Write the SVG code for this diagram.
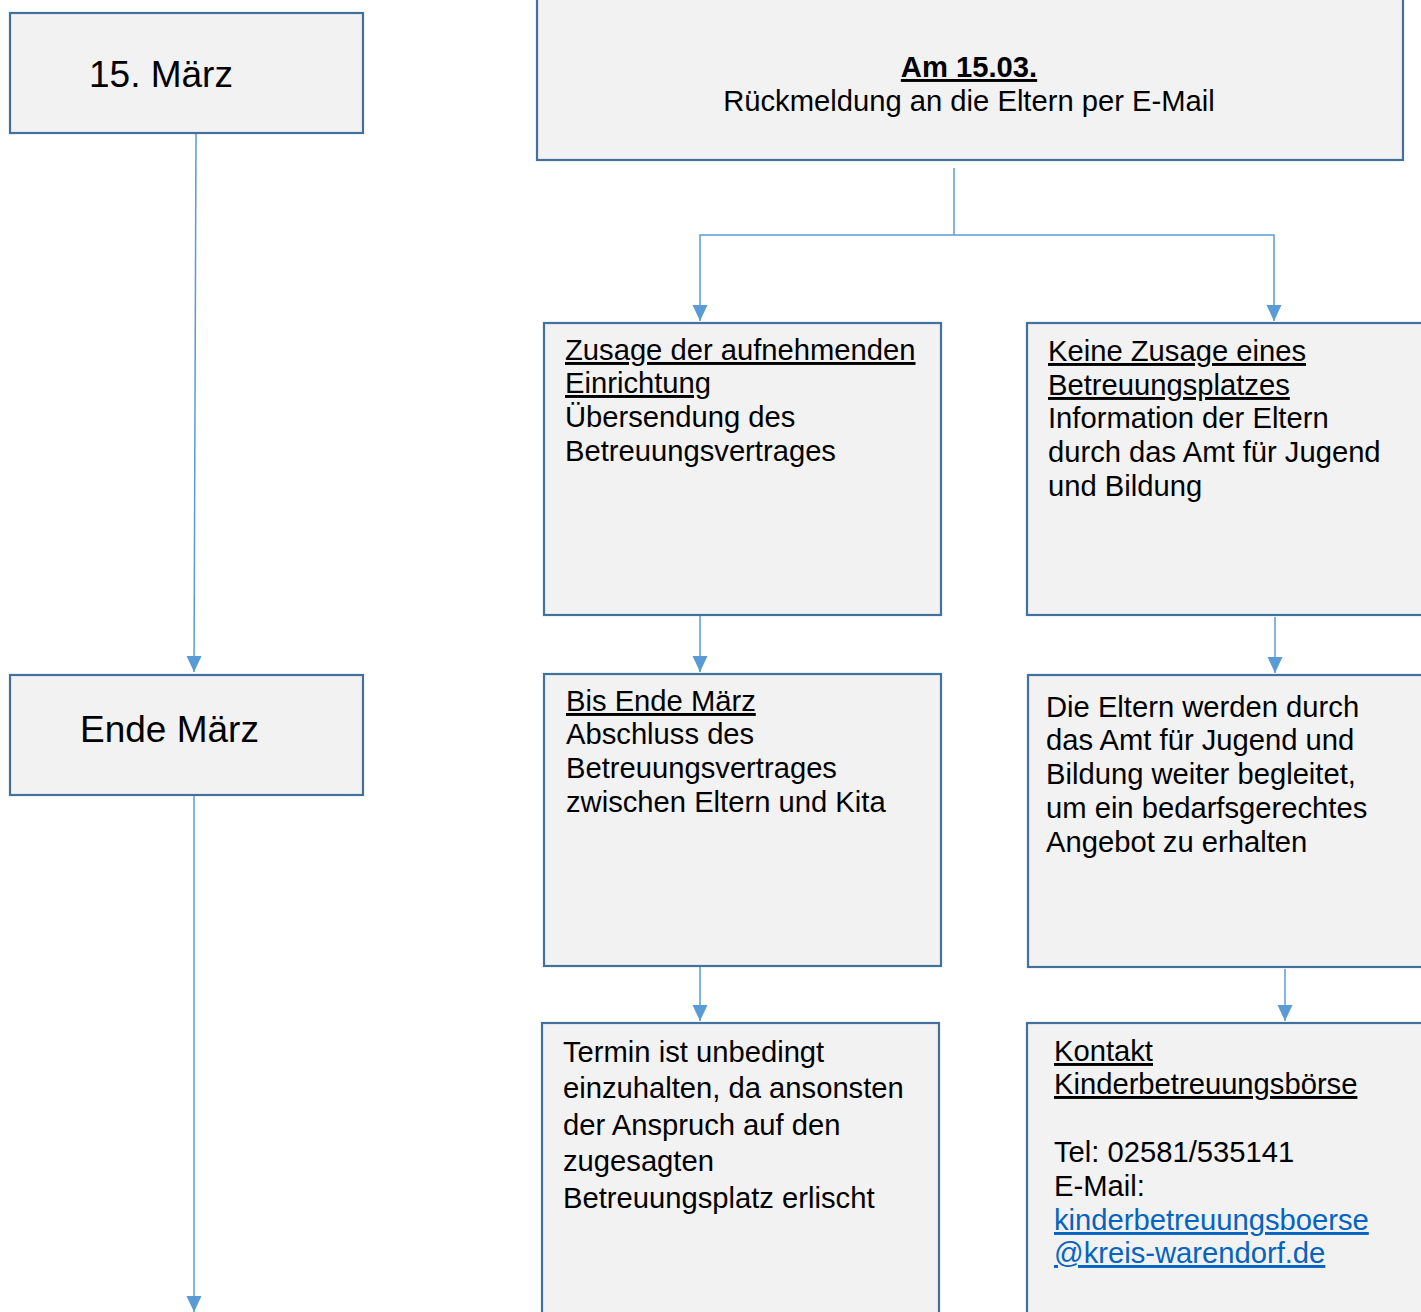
<svg xmlns="http://www.w3.org/2000/svg" width="1421" height="1312" viewBox="0 0 1421 1312">
<style>
.box{fill:#F2F2F2;stroke:#41719C;stroke-width:2.2}
.t{font-family:"Liberation Sans",Arial,sans-serif;font-size:29.2px;fill:#000}
.big{font-family:"Liberation Sans",Arial,sans-serif;font-size:37px;fill:#000}
.u{text-decoration:underline}
.link{fill:#0563C1;text-decoration:underline}
.c{fill:none;stroke:#5B9BD5;stroke-width:1.5}
</style>
<defs>
<marker id="ah" markerUnits="userSpaceOnUse" markerWidth="17" markerHeight="17" viewBox="0 0 17 17" refX="16" refY="8.5" orient="auto">
<path d="M0,1 L16,8.5 L0,16 Z" fill="#5B9BD5"/>
</marker>
</defs>
<g id="connectors">
<path class="c" d="M196,134 L194,672" marker-end="url(#ah)"/>
<path class="c" d="M194,796 L194,1312" marker-end="url(#ah)"/>
<path class="c" d="M954,168 L954,235"/>
<path class="c" d="M954,235 L700,235 L700,321" marker-end="url(#ah)"/>
<path class="c" d="M954,235 L1274,235 L1274,321" marker-end="url(#ah)"/>
<path class="c" d="M700,616 L700,672" marker-end="url(#ah)"/>
<path class="c" d="M1275,617 L1275,673" marker-end="url(#ah)"/>
<path class="c" d="M700,967 L700,1021" marker-end="url(#ah)"/>
<path class="c" d="M1285,969 L1285,1021" marker-end="url(#ah)"/>
</g>
<g id="n-15maerz">
<rect class="box" x="10" y="13" width="353" height="120"/>
<text class="big" x="89" y="87">15. März</text>
</g>
<g id="n-endemaerz">
<rect class="box" x="10" y="675" width="353" height="120"/>
<text class="big" x="80" y="742">Ende März</text>
</g>
<g id="n-am1503">
<rect class="box" x="537" y="-2" width="866" height="162"/>
<text class="t" x="969" y="77" text-anchor="middle" font-weight="bold"><tspan class="u">Am 15.03.</tspan></text>
<text class="t" x="969" y="111" text-anchor="middle">Rückmeldung an die Eltern per E-Mail</text>
</g>
<g id="n-zusage">
<rect class="box" x="544" y="323" width="397" height="292"/>
<text class="t" x="565" y="360"><tspan class="u">Zusage der aufnehmenden</tspan></text>
<text class="t" x="565" y="393"><tspan class="u">Einrichtung</tspan></text>
<text class="t" x="565" y="427">Übersendung des</text>
<text class="t" x="565" y="461">Betreuungsvertrages</text>
</g>
<g id="n-keinezusage">
<rect class="box" x="1027" y="323" width="400" height="292"/>
<text class="t" x="1048" y="361"><tspan class="u">Keine Zusage eines</tspan></text>
<text class="t" x="1048" y="395"><tspan class="u">Betreuungsplatzes</tspan></text>
<text class="t" x="1048" y="428">Information der Eltern</text>
<text class="t" x="1048" y="462">durch das Amt für Jugend</text>
<text class="t" x="1048" y="496">und Bildung</text>
</g>
<g id="n-bisende">
<rect class="box" x="544" y="674" width="397" height="292"/>
<text class="t" x="566" y="711"><tspan class="u">Bis Ende März</tspan></text>
<text class="t" x="566" y="744">Abschluss des</text>
<text class="t" x="566" y="778">Betreuungsvertrages</text>
<text class="t" x="566" y="812">zwischen Eltern und Kita</text>
</g>
<g id="n-begleitet">
<rect class="box" x="1028" y="675" width="400" height="292"/>
<text class="t" x="1046" y="717">Die Eltern werden durch</text>
<text class="t" x="1046" y="750">das Amt für Jugend und</text>
<text class="t" x="1046" y="784">Bildung weiter begleitet,</text>
<text class="t" x="1046" y="818">um ein bedarfsgerechtes</text>
<text class="t" x="1046" y="852">Angebot zu erhalten</text>
</g>
<g id="n-termin">
<rect class="box" x="542" y="1023" width="397" height="300"/>
<text class="t" x="563" y="1062">Termin ist unbedingt</text>
<text class="t" x="563" y="1098">einzuhalten, da ansonsten</text>
<text class="t" x="563" y="1135">der Anspruch auf den</text>
<text class="t" x="563" y="1171">zugesagten</text>
<text class="t" x="563" y="1208">Betreuungsplatz erlischt</text>
</g>
<g id="n-kontakt">
<rect class="box" x="1027" y="1023" width="400" height="300"/>
<text class="t" x="1054" y="1061"><tspan class="u">Kontakt</tspan></text>
<text class="t" x="1054" y="1094"><tspan class="u">Kinderbetreuungsbörse</tspan></text>
<text class="t" x="1054" y="1162">Tel: 02581/535141</text>
<text class="t" x="1054" y="1196">E-Mail:</text>
<text class="t link" x="1054" y="1230">kinderbetreuungsboerse</text>
<text class="t link" x="1054" y="1263">@kreis-warendorf.de</text>
</g>
</svg>
